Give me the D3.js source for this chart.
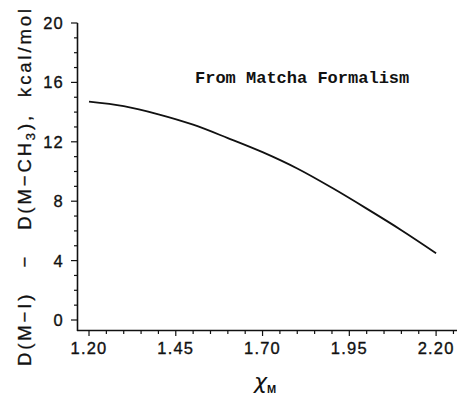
<!DOCTYPE html>
<html>
<head>
<meta charset="utf-8">
<script src="https://cdn.jsdelivr.net/npm/d3@7"></script>
<style>
  body { margin: 0; background: #fff; }
  svg { display: block; }
</style>
</head>
<body>
<div id="chart"></div>
<script>
const chiM = [1.20, 1.30, 1.40, 1.50, 1.60, 1.70, 1.80, 1.90, 2.00, 2.10, 2.20];
const deltaD = [14.7, 14.4, 13.85, 13.15, 12.25, 11.3, 10.2, 8.9, 7.5, 6.05, 4.5];
const xTicks = [1.20, 1.45, 1.70, 1.95, 2.20];
const yTicks = [0, 4, 8, 12, 16, 20];

const width = 457;
const height = 398;

const svg = d3
  .select('#chart')
  .append('svg')
  .attr('width', width)
  .attr('height', height);

const x = d3.scaleLinear().domain([1.1654, 2.2487]).range([77, 453]);
const y = d3.scaleLinear().domain([0, 20]).range([320, 23]);

const ink = '#111';
const sans = 'Liberation Sans, Arial, sans-serif';

// axis lines
svg.append('line')
  .attr('x1', 77).attr('x2', 457)
  .attr('y1', 330.5).attr('y2', 330.5)
  .attr('stroke', ink).attr('stroke-width', 1.6);
svg.append('line')
  .attr('x1', 77.5).attr('x2', 77.5)
  .attr('y1', 23).attr('y2', 331)
  .attr('stroke', ink).attr('stroke-width', 1.6);

// x ticks, minor every 0.05
const xMinor = d3.range(1.20, 2.30, 0.05).filter((v) => v < 2.27);
svg.append('g')
  .selectAll('line')
  .data(xMinor)
  .join('line')
  .attr('x1', (d) => x(d)).attr('x2', (d) => x(d))
  .attr('y1', 330.5)
  .attr('y2', (d, i) => (i % 5 === 0 ? 336 : 334))
  .attr('stroke', ink).attr('stroke-width', 1.2);

svg.append('g')
  .selectAll('text')
  .data(xTicks)
  .join('text')
  .attr('x', (d) => x(d))
  .attr('y', 353.5)
  .attr('text-anchor', 'middle')
  .style('font-family', sans)
  .style('font-size', '16.5px')
  .style('letter-spacing', '1.2px')
  .attr('fill', ink)
  .attr('stroke', ink)
  .attr('stroke-width', 0.35)
  .text((d) => d.toFixed(2));

// y ticks, minor every 1
const yMinor = d3.range(0, 21, 1);
svg.append('g')
  .selectAll('line')
  .data(yMinor)
  .join('line')
  .attr('x1', (d) => (d % 4 === 0 ? 71 : 74))
  .attr('x2', 77.5)
  .attr('y1', (d) => y(d)).attr('y2', (d) => y(d))
  .attr('stroke', ink).attr('stroke-width', 1.2);

svg.append('g')
  .selectAll('text')
  .data(yTicks)
  .join('text')
  .attr('x', 64)
  .attr('y', (d) => y(d))
  .attr('dy', '0.36em')
  .attr('text-anchor', 'end')
  .style('font-family', sans)
  .style('font-size', '16.5px')
  .style('letter-spacing', '1.2px')
  .attr('fill', ink)
  .attr('stroke', ink)
  .attr('stroke-width', 0.35)
  .text((d) => d);

// curve
const line = d3.line()
  .x((d, i) => x(chiM[i]))
  .y((d) => y(d))
  .curve(d3.curveMonotoneX);

svg.append('path')
  .datum(deltaD)
  .attr('d', line)
  .attr('fill', 'none')
  .attr('stroke', ink)
  .attr('stroke-width', 1.8);

// annotation
svg.append('text')
  .attr('x', 195)
  .attr('y', 83)
  .style('font-family', 'Liberation Mono, Courier New, monospace')
  .style('font-weight', 'bold')
  .style('font-size', '17px')
  .attr('fill', ink)
  .text('From Matcha Formalism');

// y label, stretched to the span it has in the original
const yLabel = svg.append('text')
  .attr('transform', 'translate(31,186) rotate(-90)')
  .attr('text-anchor', 'middle')
  .style('font-family', sans)
  .style('font-size', '18.5px')
  .style('white-space', 'pre')
  .attr('fill', ink)
  .attr('stroke', ink)
  .attr('stroke-width', 0.3);
yLabel.append('tspan').text('D(M\u2212I)   \u2212   D(M\u2212CH');
yLabel.append('tspan').attr('dy', 4).style('font-size', '13px').text('3');
yLabel.append('tspan').attr('dy', -4).text('),  kcal/mol');

const labelSpan = 360;
const nChars = yLabel.text().length;
const w0 = yLabel.node().getBBox().width;
yLabel.style('letter-spacing', `${(labelSpan - w0) / nChars}px`);

// x label
const xLabel = svg.append('text')
  .attr('x', 254)
  .attr('y', 389)
  .style('font-family', 'DejaVu Sans, sans-serif')
  .style('font-size', '22px')
  .attr('fill', ink);
xLabel.append('tspan').style('font-style', 'italic').text('\u03c7');
xLabel.append('tspan').attr('dy', 4).style('font-size', '11px').style('font-family', sans).style('font-weight', 'bold').text('M');
</script>
</body>
</html>
